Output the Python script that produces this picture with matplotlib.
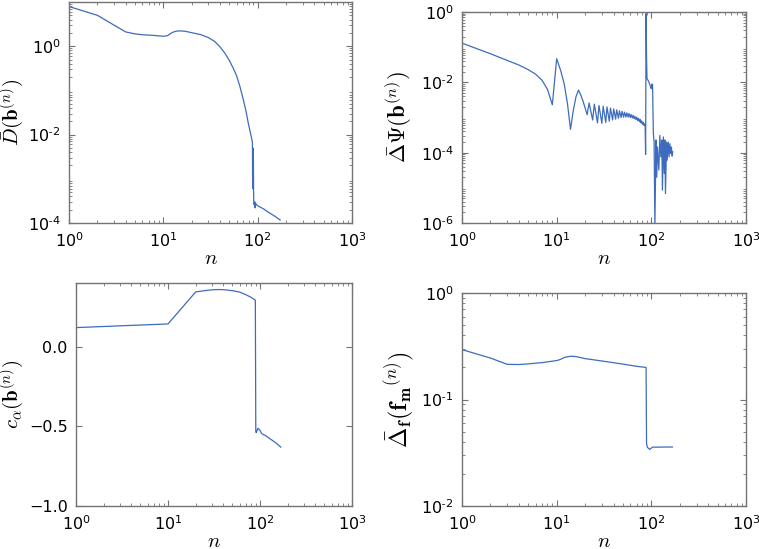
import numpy as np
import matplotlib
matplotlib.use("Agg")
import matplotlib.pyplot as plt
from matplotlib.ticker import LogLocator, FixedLocator, FuncFormatter

plt.rcParams['font.family'] = ['DejaVu Sans']
plt.rcParams['mathtext.fontset'] = 'cm'

# ---------------- data ----------------
# Panel (a): D-bar
d_n = [1, 2, 3, 4, 5, 6, 8, 10, 11, 12, 13, 14, 15, 17, 20, 25, 30, 35, 40, 45,
       50, 55, 60, 65, 70, 75, 80, 83, 85, 87, 88, 88.5, 89, 89.5, 90, 90.5,
       91, 92, 93, 94, 95, 97, 100, 115, 130, 150, 173]
d_v = [7.9, 5.0, 3.0, 2.1, 1.9, 1.82, 1.75, 1.68, 1.72, 1.95, 2.12, 2.2, 2.22, 2.18, 2.02,
       1.82, 1.57, 1.28, 0.96, 0.69, 0.48, 0.32, 0.21, 0.12, 0.065, 0.035, 0.017, 0.012,
       0.0095, 0.0075, 6.5e-3, 6e-4, 5e-3, 7e-4, 4e-3, 5e-4,
       2.8e-4, 2.6e-4, 3.0e-4, 2.2e-4, 2.8e-4, 2.6e-4, 2.45e-4, 2.1e-4, 1.75e-4, 1.45e-4, 1.17e-4]

# Panel (b): Delta Psi
psi_n = [1, 2, 3, 4, 5, 6, 7, 8, 9, 10, 11, 12, 13, 14, 15, 16, 17, 18,
         19, 21, 22, 24, 25, 27, 28, 30, 31, 33, 34, 36, 37, 39, 40, 42, 43, 45,
         46, 48, 49, 51, 52, 54, 55, 57, 58, 60, 61, 63, 64, 66, 67, 69, 70, 72,
         73, 75, 76, 78, 79, 81, 82, 84, 85, 86,
         87, 88, 89, 90, 93, 96, 99, 100, 101, 102, 103, 105, 107, 109, 112, 114,
         116, 120, 123, 126, 129, 131, 134, 137, 139, 141, 145, 147, 151, 154,
         157, 161, 163, 166, 168]
psi_v = [0.13, 0.065, 0.042, 0.031, 0.023, 0.017, 0.0115, 6.3e-3, 2.3e-3, 0.047, 0.022,
         9.2e-3, 2.5e-3, 4.6e-4, 1.6e-3, 3.9e-3, 6.0e-3, 4.3e-3,
         2.9e-3, 1.2e-3, 2.6e-3, 8.5e-4, 2.4e-3, 7.0e-4, 2.2e-3, 6.8e-4, 2.1e-3, 7.2e-4,
         2.0e-3, 7.8e-4, 1.85e-3, 8.5e-4, 1.75e-3, 9.0e-4, 1.65e-3, 9.5e-4, 1.55e-3,
         1.0e-3, 1.5e-3, 1.02e-3, 1.42e-3, 1.03e-3, 1.35e-3, 1.03e-3, 1.3e-3, 1.0e-3,
         1.22e-3, 9.7e-4, 1.15e-3, 9.2e-4, 1.08e-3, 8.7e-4, 1.02e-3, 8.1e-4, 9.5e-4,
         7.6e-4, 8.8e-4, 7.0e-4, 8.0e-4, 6.4e-4, 7.3e-4, 5.9e-4, 6.5e-4, 6.0e-4,
         9e-5, 0.9, 0.05, 0.0128, 0.011, 9e-3, 7e-3, 6.6e-3, 8.3e-3, 9e-3, 8.5e-3,
         3.5e-4, 2e-4, 8e-7, 2.3e-4, 2e-5, 1.45e-4, 3.2e-5, 3.1e-4, 7.6e-5, 2.3e-4,
         8.6e-6, 2.8e-4, 2.6e-5, 2.3e-4, 6.9e-6, 2e-4, 6.1e-5, 2e-4, 7.6e-5, 1.8e-4,
         9.5e-5, 1.45e-4, 8e-5, 1.05e-4]

# Panel (c): c_alpha
c_n = [1, 10, 20, 25, 30, 35, 40, 50, 60, 70, 80, 89, 90, 91, 93, 95, 97, 100,
       103, 106, 110, 115, 130, 150, 168]
c_v = [0.12, 0.143, 0.344, 0.352, 0.357, 0.359, 0.358, 0.352, 0.343, 0.327, 0.31,
       0.292, -0.53, -0.54, -0.525, -0.512, -0.518, -0.525, -0.54, -0.548, -0.553,
       -0.558, -0.58, -0.605, -0.63]

# Panel (d): Delta_f
f_n = [1, 2, 3, 4, 5, 7, 10, 11, 12, 14, 16, 20, 30, 50, 70, 88, 89, 91, 96,
       103, 120, 140, 167]
f_v = [0.294, 0.245, 0.214, 0.213, 0.216, 0.222, 0.232, 0.238, 0.248, 0.255, 0.253,
       0.242, 0.23, 0.215, 0.205, 0.2, 0.0385, 0.0355, 0.034, 0.0357, 0.0357,
       0.0358, 0.0358]

x_ticks = [1, 10, 100, 1000]
ylabels = [r'$\bar{D}(\mathbf{b}^{(n)})$', r'$\bar{\Delta}\Psi(\mathbf{b}^{(n)})$',
           r'$c_\alpha(\mathbf{b}^{(n)})$', r'$\bar{\Delta}_\mathbf{f}(\mathbf{f_m}^{(n)})$']

# ---------------- figure ----------------
W, H = 759, 549
fig = plt.figure(figsize=(W / 100, H / 100), dpi=100)

def rect(l, t, r, b):
    return [l / W, 1 - b / H, (r - l) / W, (b - t) / H]

boxes = [(69, 2, 352, 223), (462, 12, 746, 223), (76, 283, 352, 506), (462, 293, 746, 506)]
ylab_right = [26, 414, 26, 416]       # pixel x of ylabel right edge
xlab_top = [248, 248, 531, 531]       # pixel y of xlabel top edge
ylab_size = [15, 16.5, 15, 17.5]

axes = [fig.add_axes(rect(*b)) for b in boxes]
ax1, ax2, ax3, ax4 = axes

LC = '#3d6bbd'
SC = '0.45'

ax1.plot(d_n, d_v, color=LC, lw=0.9)
ax2.plot(psi_n, psi_v, color=LC, lw=0.9)
ax3.plot(c_n, c_v, color=LC, lw=0.9)
ax4.plot(f_n, f_v, color=LC, lw=0.9)


def log_fmt(v, p):
    e = int(round(np.log10(v)))
    if e < 0:
        return r'$\mathdefault{10^{\text{-}%d}}$' % (-e)
    return r'$\mathdefault{10^{%d}}$' % e


for ax, lab, b, yr, xt, ys in zip(axes, ylabels, boxes, ylab_right, xlab_top, ylab_size):
    l, t, r, bt = b
    ax.set_xscale('log')
    ax.set_xlim(1, 1000)
    ax.xaxis.set_major_locator(FixedLocator(x_ticks))
    ax.xaxis.set_major_formatter(FuncFormatter(log_fmt))
    ax.set_xlabel(r'$n$', fontsize=15, va='top')
    ax.xaxis.set_label_coords(0.5, -(xt - bt) / (bt - t))
    ax.set_ylabel(lab, fontsize=ys)
    ax.yaxis.set_label_coords((yr - l) / (r - l), 0.5)
    for s in ax.spines.values():
        s.set_color(SC)
        s.set_linewidth(1.0)
    ax.tick_params(which='both', direction='in', top=True, right=True,
                   color=SC, labelsize=11.5, pad=6)
    ax.tick_params(which='major', length=4)
    ax.tick_params(which='minor', length=2)

ax1.set_yscale('log')
ax1.set_ylim(1e-4, 1e1)
ax1.yaxis.set_major_locator(FixedLocator([1e-4, 1e-2, 1e0]))
ax1.yaxis.set_minor_locator(LogLocator(base=10, subs=np.arange(2, 10), numticks=20))
ax1.yaxis.set_major_formatter(FuncFormatter(log_fmt))

ax2.set_yscale('log')
ax2.set_ylim(1e-6, 1e0)
ax2.yaxis.set_major_locator(FixedLocator([1e-6, 1e-4, 1e-2, 1e0]))
ax2.yaxis.set_minor_locator(LogLocator(base=10, subs=np.arange(2, 10), numticks=20))
ax2.yaxis.set_major_formatter(FuncFormatter(log_fmt))

ax3.set_ylim(-1.0, 0.4)
ax3.yaxis.set_major_locator(FixedLocator([-1.0, -0.5, 0.0]))
ax3.yaxis.set_major_formatter(FuncFormatter(lambda v, p: f'{v:.1f}'.replace('-', '\u2212')))

ax4.set_yscale('log')
ax4.set_ylim(1e-2, 1e0)
ax4.yaxis.set_major_locator(FixedLocator([1e-2, 1e-1, 1e0]))
ax4.yaxis.set_major_formatter(FuncFormatter(log_fmt))

fig.savefig('out.png', dpi=100)
